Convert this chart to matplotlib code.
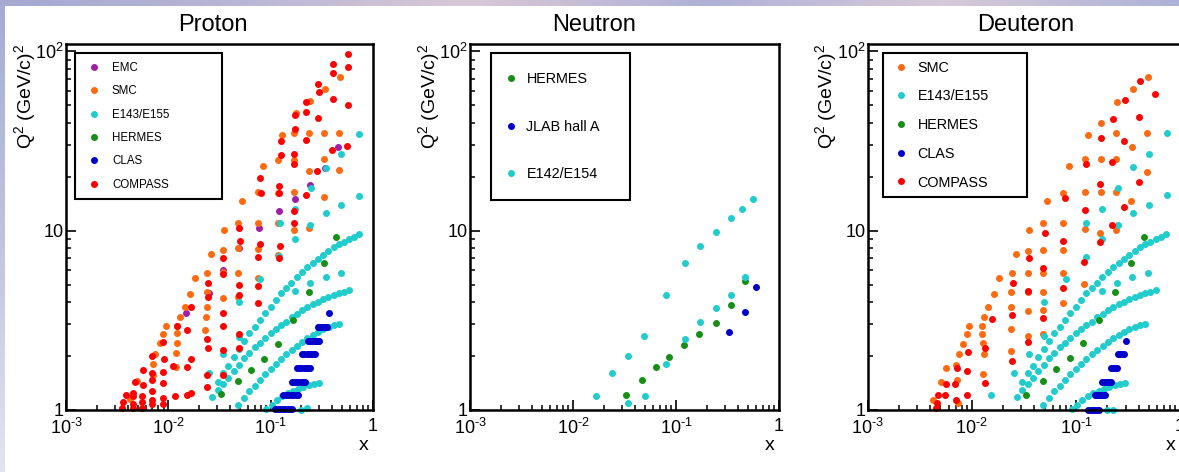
import numpy as np
import matplotlib.pyplot as plt
from matplotlib.lines import Line2D
from matplotlib.ticker import LogLocator, NullFormatter
from matplotlib.colors import LinearSegmentedColormap

plt.rcParams['font.family'] = ['Liberation Sans', 'DejaVu Sans']
plt.rcParams['mathtext.fontset'] = 'custom'
plt.rcParams['mathtext.rm'] = 'Liberation Sans'
plt.rcParams['mathtext.it'] = 'Liberation Sans:italic'

# ---------------- data: (x, Q^2) ----------------
# proton
p_emc = [(0.0148, 3.48), (0.025, 4.5), (0.0345, 6.0), (0.049, 8.0), (0.0775, 10.3),
         (0.121, 12.9), (0.172, 15.1), (0.245, 18.1), (0.339, 22.5), (0.458, 29.4)]

p_smc = [(0.0042, 1.15), (0.0049, 1.45),
         (0.0071, 1.57), (0.0071, 1.80), (0.0074, 2.04),
         (0.0083, 2.35), (0.0089, 2.64), (0.0095, 2.94),
         (0.0118, 1.74), (0.012, 2.07), (0.0122, 2.35), (0.0122, 2.68), (0.0121, 2.94),
         (0.0130, 3.32), (0.0146, 3.77), (0.0163, 4.42), (0.0182, 5.42),
         (0.023, 2.79), (0.0235, 3.32), (0.0237, 3.77), (0.0237, 4.57), (0.0237, 5.78),
         (0.0261, 7.41),
         (0.034, 4.23), (0.034, 5.9), (0.0344, 7.8), (0.0352, 10.1),
         (0.0476, 4.29), (0.0476, 5.78), (0.0476, 7.97), (0.0476, 11.1), (0.0521, 14.7),
         (0.0748, 5.47), (0.0748, 7.87), (0.0748, 11.0), (0.0748, 16.4), (0.0847, 23.0),
         (0.119, 7.3), (0.119, 11.0), (0.119, 16.3), (0.119, 24.8), (0.128, 34.3),
         (0.170, 10.1), (0.170, 16.4), (0.170, 24.8), (0.170, 34.9), (0.175, 45.2),
         (0.236, 10.4), (0.236, 21.5), (0.236, 34.9), (0.242, 52.9),
         (0.334, 15.4), (0.334, 25.0), (0.334, 34.9), (0.339, 61.7),
         (0.468, 21.8), (0.468, 34.9), (0.475, 72.3)]

p_compass = [(0.0035, 1.02), (0.0036, 1.11), (0.0039, 1.22),
             (0.0045, 1.02), (0.0045, 1.08), (0.0045, 1.19), (0.0045, 1.25), (0.0047, 1.44),
             (0.0055, 1.02), (0.0055, 1.11), (0.0055, 1.19), (0.0056, 1.38), (0.0056, 1.67),
             (0.0069, 1.08), (0.0069, 1.14), (0.0069, 1.28), (0.0069, 1.47), (0.0070, 1.60), (0.0070, 2.01),
             (0.0089, 1.08), (0.0089, 1.16), (0.0089, 1.41), (0.0089, 1.62), (0.0090, 1.92), (0.0089, 2.40),
             (0.0116, 1.20), (0.0112, 1.77), (0.0121, 2.94),
             (0.0151, 1.21), (0.0151, 1.74), (0.0151, 2.80),
             (0.0165, 1.25), (0.0165, 1.93), (0.0167, 3.74),
             (0.024, 1.35), (0.024, 1.57), (0.0246, 2.21), (0.024, 2.48), (0.0246, 4.29), (0.0242, 5.13),
             (0.0345, 1.57), (0.0345, 2.16), (0.0345, 2.94), (0.0345, 3.49), (0.0340, 5.74), (0.0345, 7.08),
             (0.049, 2.21), (0.049, 2.64), (0.049, 4.38), (0.049, 4.98), (0.050, 8.77), (0.049, 10.4),
             (0.0746, 3.94), (0.0746, 4.92), (0.0760, 7.16), (0.0787, 8.4), (0.081, 16.2), (0.0787, 19.6),
             (0.121, 7.0), (0.123, 8.2), (0.121, 16.2), (0.121, 17.8), (0.125, 26.4), (0.125, 31.6),
             (0.168, 11.0), (0.168, 12.9), (0.170, 23.7), (0.170, 26.8), (0.173, 36.8), (0.173, 44.2),
             (0.219, 15.8), (0.222, 32.0), (0.222, 46.0), (0.219, 52.5),
             (0.285, 21.6), (0.292, 42.3), (0.296, 59.0), (0.292, 66.0),
             (0.395, 28.2), (0.403, 54.0), (0.408, 76.0), (0.403, 85.0),
             (0.560, 29.8), (0.565, 50.0), (0.565, 82.0), (0.565, 96.3)]

p_hermes = [(0.033, 1.23), (0.0483, 1.45), (0.064, 1.67), (0.087, 1.92), (0.117, 2.33),
            (0.164, 3.18), (0.236, 4.57), (0.334, 6.58), (0.436, 9.2)]

p_e143 = [(0.025, 1.6), (0.0345, 2.05), (0.049, 2.56), (0.049, 4.02), (0.0787, 5.35),
          (0.121, 7.26), (0.123, 11.0), (0.172, 4.63), (0.172, 8.96), (0.172, 13.3),
          (0.245, 5.13), (0.245, 10.7), (0.248, 17.2), (0.344, 5.54), (0.344, 12.6),
          (0.344, 22.5), (0.49, 5.78), (0.49, 14.0), (0.49, 26.8), (0.733, 15.6),
          (0.733, 34.5), (0.20, 1.0), (0.228, 1.02)]

# E143/E155 fixed-angle bands (same for proton and deuteron)
band_u_x = [0.0305, 0.0344, 0.0385, 0.0435, 0.049, 0.0552, 0.0618, 0.0698, 0.0787, 0.0886,
            0.100, 0.112, 0.126, 0.142, 0.159, 0.179, 0.202, 0.228, 0.257, 0.290,
            0.327, 0.366, 0.412, 0.464, 0.520, 0.586, 0.655, 0.733]
band_u_q2 = [1.44, 1.60, 1.77, 1.97, 2.19, 2.42, 2.68, 2.91, 3.18, 3.46,
             3.77, 4.11, 4.48, 4.77, 5.13, 5.50, 5.89, 6.25, 6.63, 6.98,
             7.32, 7.68, 8.08, 8.39, 8.68, 9.02, 9.26, 9.55]
band_m_x = [0.0270, 0.0305, 0.0344, 0.0385, 0.0435, 0.049, 0.0552, 0.0618, 0.0698, 0.0787,
            0.0886, 0.100, 0.113, 0.126, 0.142, 0.160, 0.181, 0.202, 0.228, 0.257,
            0.290, 0.327, 0.366, 0.412, 0.464, 0.520, 0.586]
band_m_q2 = [1.18, 1.29, 1.40, 1.51, 1.65, 1.79, 1.94, 2.09, 2.24, 2.37,
             2.51, 2.68, 2.84, 2.98, 3.11, 3.29, 3.44, 3.61, 3.74, 3.89,
             4.02, 4.16, 4.27, 4.40, 4.49, 4.57, 4.65]
band_l_x = [0.0483, 0.0548, 0.0618, 0.0698, 0.0787, 0.0886, 0.100, 0.113, 0.126, 0.142,
            0.160, 0.181, 0.203, 0.228, 0.257, 0.290, 0.327, 0.368, 0.412, 0.464]
band_l_q2 = [1.07, 1.16, 1.27, 1.36, 1.47, 1.58, 1.69, 1.80, 1.93, 2.04,
             2.16, 2.27, 2.39, 2.51, 2.62, 2.71, 2.82, 2.91, 2.98, 3.03]
band_ll_x = [0.091, 0.1025, 0.1155, 0.130, 0.1465, 0.165, 0.186, 0.209, 0.236, 0.266, 0.299]
band_ll_q2 = [1.01, 1.07, 1.13, 1.19, 1.24, 1.28, 1.31, 1.34, 1.37, 1.39, 1.41]

p_clas_rows = [(1.01, [0.110, 0.117, 0.124, 0.131, 0.139, 0.147, 0.155, 0.160]),
               (1.21, [0.132, 0.140, 0.148, 0.157, 0.166, 0.175, 0.185]),
               (1.44, [0.160, 0.169, 0.178, 0.187, 0.197, 0.207, 0.216]),
               (1.71, [0.180, 0.190, 0.200, 0.210, 0.220, 0.230, 0.240]),
               (2.04, [0.203, 0.213, 0.224, 0.235, 0.246, 0.258, 0.270]),
               (2.43, [0.233, 0.243, 0.254, 0.265, 0.277, 0.289, 0.300]),
               (2.91, [0.288, 0.298, 0.310, 0.323, 0.336, 0.348, 0.357]),
               (3.49, [0.372])]

# neutron
n_hermes = [(0.0328, 1.22), (0.0471, 1.47), (0.0644, 1.73), (0.0861, 1.98), (0.119, 2.29),
            (0.166, 2.65), (0.243, 3.07), (0.340, 3.85), (0.465, 5.24)]
n_jlab = [(0.324, 2.71), (0.465, 3.52), (0.598, 4.83)]
n_e142 = [(0.0167, 1.20), (0.0237, 1.60), (0.0344, 2.0), (0.0489, 2.60), (0.080, 4.40),
          (0.122, 6.58), (0.171, 8.22), (0.243, 9.79), (0.340, 11.7), (0.434, 13.3),
          (0.564, 15.0), (0.0344, 1.10), (0.050, 1.20), (0.080, 1.80), (0.122, 2.50),
          (0.171, 3.11), (0.243, 3.69), (0.340, 4.40), (0.465, 5.50)]

# deuteron
d_smc = [(0.00422, 1.14), (0.00503, 1.44), (0.0056, 1.71), (0.0072, 1.47), (0.0070, 1.78),
         (0.00743, 1.09), (0.00755, 2.04), (0.0083, 2.33), (0.00895, 2.64), (0.0095, 2.95),
         (0.0128, 1.59), (0.0132, 2.05), (0.0128, 2.37), (0.0125, 2.65), (0.0125, 2.95),
         (0.0131, 3.32), (0.0144, 3.74), (0.0164, 4.44), (0.0184, 5.42),
         (0.0239, 2.13), (0.0239, 2.83), (0.0239, 3.77), (0.0237, 4.57), (0.0243, 5.78), (0.0265, 7.41),
         (0.0345, 2.60), (0.0345, 3.58), (0.0345, 4.57), (0.0345, 5.78), (0.0350, 7.73), (0.0358, 10.1),
         (0.048, 2.65), (0.048, 3.60), (0.048, 4.57), (0.048, 5.78), (0.0481, 7.8), (0.0488, 11.0), (0.0533, 14.6),
         (0.0745, 3.97), (0.0745, 5.83), (0.0745, 7.85), (0.075, 11.1), (0.076, 16.3), (0.0863, 22.9),
         (0.1186, 5.02), (0.121, 10.2), (0.121, 16.4), (0.121, 25.0), (0.130, 34.2),
         (0.171, 9.75), (0.175, 16.4), (0.175, 25.0), (0.175, 39.7),
         (0.241, 10.1), (0.243, 16.4), (0.243, 25.0), (0.243, 34.9), (0.248, 52.4),
         (0.341, 14.7), (0.345, 29.4), (0.350, 61.7),
         (0.478, 21.2), (0.482, 34.9), (0.488, 72.3)]

d_compass = [(0.0045, 1.02), (0.0046, 1.09), (0.0047, 1.21),
             (0.0055, 1.22), (0.0057, 1.39),
             (0.0070, 1.14), (0.0069, 1.39), (0.0072, 1.71),
             (0.0090, 1.22), (0.0090, 1.64), (0.0092, 2.10),
             (0.0135, 1.42), (0.0135, 2.21), (0.0157, 3.22),
             (0.0243, 1.88), (0.0245, 3.39), (0.0251, 5.09),
             (0.0345, 2.38), (0.0345, 4.63), (0.0356, 7.08),
             (0.048, 3.27), (0.048, 6.17), (0.0507, 9.75),
             (0.0745, 4.77), (0.0745, 8.80), (0.0789, 15.2),
             (0.120, 6.72), (0.121, 13.0), (0.125, 23.5),
             (0.171, 8.69), (0.171, 18.2), (0.175, 32.8),
             (0.223, 10.7), (0.223, 24.1), (0.227, 42.0),
             (0.290, 13.6), (0.290, 31.8), (0.298, 53.6),
             (0.405, 18.8), (0.407, 42.9), (0.409, 68.7),
             (0.570, 57.9)]

d_hermes = [(0.0334, 1.22), (0.0482, 1.45), (0.0647, 1.69), (0.087, 1.96), (0.118, 2.35),
            (0.167, 3.18), (0.238, 4.53), (0.337, 6.58), (0.448, 9.18)]

d_e143 = [(0.0152, 1.22), (0.0253, 1.6), (0.0358, 2.05), (0.0497, 2.58), (0.0497, 4.0),
          (0.0802, 5.37), (0.124, 7.16), (0.126, 11.0), (0.179, 4.6), (0.179, 8.94),
          (0.178, 13.2), (0.249, 5.1), (0.254, 10.7), (0.254, 17.2), (0.348, 5.5),
          (0.353, 12.6), (0.353, 22.6), (0.495, 5.78), (0.507, 14.0), (0.507, 26.8),
          (0.75, 15.8), (0.75, 34.9), (0.20, 1.0), (0.225, 1.0)]

d_clas_rows = [(1.0, [0.132, 0.139, 0.146, 0.153, 0.160, 0.165]),
               (1.21, [0.153, 0.160, 0.168, 0.176, 0.184, 0.190]),
               (1.44, [0.177, 0.185, 0.193, 0.201, 0.210, 0.218]),
               (1.72, [0.219, 0.227, 0.236, 0.244, 0.250]),
               (2.04, [0.253, 0.262, 0.271, 0.280, 0.288]),
               (2.44, [0.305])]

c_emc = '#a01fa8'
c_smc = '#ff6a10'
c_e143 = '#20cccc'
c_hermes = '#178f17'
c_clas = '#0000cc'
c_compass = '#ff0000'


def pts(pairs):
    x, q = zip(*pairs)
    return list(x), list(q)


def rows(r):
    x, q = [], []
    for q2, xs in r:
        x += xs
        q += [q2] * len(xs)
    return x, q


e143_x = band_u_x + band_m_x + band_l_x + band_ll_x
e143_q = band_u_q2 + band_m_q2 + band_l_q2 + band_ll_q2
pe_x, pe_q = pts(p_e143)
de_x, de_q = pts(d_e143)

proton = [('EMC', pts(p_emc), c_emc),
          ('SMC', pts(p_smc), c_smc),
          ('E143/E155', (e143_x + pe_x, e143_q + pe_q), c_e143),
          ('HERMES', pts(p_hermes), c_hermes),
          ('CLAS', rows(p_clas_rows), c_clas),
          ('COMPASS', pts(p_compass), c_compass)]
neutron = [('HERMES', pts(n_hermes), c_hermes),
           ('JLAB hall A', pts(n_jlab), c_clas),
           ('E142/E154', pts(n_e142), c_e143)]
deuteron = [('SMC', pts(d_smc), c_smc),
            ('E143/E155', (e143_x + de_x, e143_q + de_q), c_e143),
            ('HERMES', pts(d_hermes), c_hermes),
            ('CLAS', rows(d_clas_rows), c_clas),
            ('COMPASS', pts(d_compass), c_compass)]

W, H = 1179, 472
fig = plt.figure(figsize=(W / 100, H / 100), dpi=100)

# slide background strips (top and left edge)
top_cm = LinearSegmentedColormap.from_list(
    'top', ['#a6a8d2', '#b8b6d6', '#d8c8d6', '#b0b0d8', '#d6cad8', '#aeb2d8'])
left_cm = LinearSegmentedColormap.from_list('left', ['#e2e4f0', '#c0c4de', '#a8acd4'])
bg_top = fig.add_axes([0, 1 - 6 / H, 1, 6 / H])
bg_top.imshow(np.linspace(0, 1, 256)[None, :], aspect='auto', cmap=top_cm)
bg_top.axis('off')
bg_left = fig.add_axes([0, 0, 5 / W, 1 - 6 / H])
bg_left.imshow(np.linspace(0, 1, 256)[:, None], aspect='auto', cmap=left_cm, origin='lower')
bg_left.axis('off')


def panel(left, right, series, title, title_x, leg):
    ax = fig.add_axes([left / W, 1 - 410 / H, (right - left) / W, 366.5 / H])
    ax.set_xscale('log')
    ax.set_yscale('log')
    for name, (x, q), c in series:
        ax.plot(x, q, ls='none', marker='o', ms=4.0, color=c, mec=c, clip_on=False)
    ax.set_xlim(1e-3, 1)
    ax.set_ylim(1, 110.7)
    ax.set_xticks([1e-3, 1e-2, 1e-1, 1])
    ax.set_xticklabels([r'$10^{\text{-}3}$', r'$10^{\text{-}2}$', r'$10^{\text{-}1}$', '1'])
    ax.set_yticks([1, 10, 100])
    ax.set_yticklabels(['1', '10', '$10^{2}$'])
    for a in (ax.xaxis, ax.yaxis):
        a.set_minor_locator(LogLocator(base=10, subs=np.arange(2, 10), numticks=20))
        a.set_minor_formatter(NullFormatter())
    ax.tick_params(which='both', direction='in', top=False, right=False)
    ax.tick_params(which='major', length=7, width=1.2, labelsize=13)
    ax.tick_params(which='minor', length=3.6, width=1.1)
    ax.tick_params(axis='x', pad=6)
    ax.tick_params(axis='y', pad=1.5)
    for s in ax.spines.values():
        s.set_linewidth(1.8)
    ax.set_xlabel('x', fontsize=14, loc='right')
    ax.xaxis.set_label_coords(0.985, -0.075)
    ax.set_ylabel('Q$^{2}$ (GeV/c)$^{2}$', fontsize=14, loc='top')
    ax.yaxis.set_label_coords(-0.092, 1.0)

    fs, bpad, lsp, hlen, htp, x0, w = leg
    handles = [Line2D([0], [0], ls='none', marker='o', ms=4.0, color=c, mec=c)
               for _, _, c in series]
    lg = ax.legend(handles, [s[0] for s in series], loc='upper left',
                   bbox_to_anchor=(x0, 0.5, w, 0.473), mode='expand',
                   borderaxespad=0, fontsize=fs, borderpad=bpad, labelspacing=lsp,
                   handlelength=hlen, handletextpad=htp, fancybox=False,
                   framealpha=1, edgecolor='black')
    lg.get_frame().set_linewidth(1.5)

    fig.text(title_x / W, 1 - 31 / H, title, ha='center', va='baseline', fontsize=17)
    return ax


panel(66, 373, proton, 'Proton', 213, (8.3, 0.76, 0.98, 1.78, 0.67, 0.0293, 0.480))
panel(470, 779, neutron, 'Neutron', 594.5, (10.4, 1.32, 2.31, 0.2, 0.95, 0.067, 0.451))
panel(867.7, 1180, deuteron, 'Deuteron', 1025.8, (10.4, 0.5, 1.02, 1.45, 0.43, 0.05, 0.46))

fig.savefig('out.png', dpi=100)
